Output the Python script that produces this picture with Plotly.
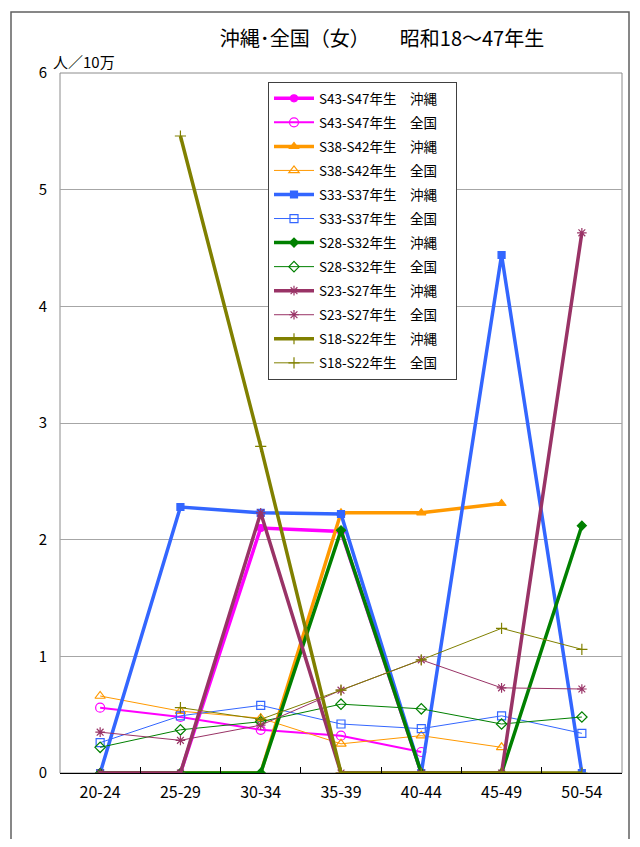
import plotly.graph_objects as go

ages = ["20-24", "25-29", "30-34", "35-39", "40-44", "45-49", "50-54"]

s43_oki = [0, 0, 2.10, 2.07, 0, None, None]
s43_zen = [0.56, 0.48, 0.37, 0.32, 0.18, None, None]
s38_oki = [0, 0, 0, 2.23, 2.23, 2.31, None]
s38_zen = [0.66, 0.53, 0.47, 0.25, 0.32, 0.22, None]
s33_oki = [0, 2.28, 2.23, 2.22, 0, 4.44, 0]
s33_zen = [0.26, 0.49, 0.58, 0.42, 0.38, 0.49, 0.34]
s28_oki = [0, 0, 0, 2.08, 0, 0, 2.12]
s28_zen = [0.22, 0.37, 0.44, 0.59, 0.55, 0.42, 0.48]
s23_oki = [0, 0, 2.23, 0, 0, 0, 4.63]
s23_zen = [0.35, 0.28, 0.41, 0.71, 0.97, 0.73, 0.72]
s18_oki = [None, 5.46, 2.80, 0, 0, 0, 0]
s18_zen = [None, 0.56, 0.46, 0.71, 0.97, 1.24, 1.06]

series = [
    ("S43-S47年生　沖縄", s43_oki, "#FF00FF", 3.5, "circle", 7),
    ("S43-S47年生　全国", s43_zen, "#FF00FF", 2, "circle-open", 9),
    ("S38-S42年生　沖縄", s38_oki, "#FF9900", 3.5, "triangle-up", 8),
    ("S38-S42年生　全国", s38_zen, "#FF9900", 1, "triangle-up-open", 9),
    ("S33-S37年生　沖縄", s33_oki, "#3366FF", 3.5, "square", 7),
    ("S33-S37年生　全国", s33_zen, "#3366FF", 1, "square-open", 8),
    ("S28-S32年生　沖縄", s28_oki, "#008000", 3.5, "diamond", 7),
    ("S28-S32年生　全国", s28_zen, "#008000", 1, "diamond-open", 8),
    ("S23-S27年生　沖縄", s23_oki, "#993366", 3.5, "asterisk-open", 8),
    ("S23-S27年生　全国", s23_zen, "#993366", 1, "asterisk-open", 8),
    ("S18-S22年生　沖縄", s18_oki, "#808000", 3.5, "cross-thin-open", 8),
    ("S18-S22年生　全国", s18_zen, "#808000", 1, "cross-thin-open", 8),
]

FONT = "Noto Sans CJK JP"
OFF = 8  # page body margin
W, H = 640 - OFF - 8, 847 - OFF - 8
PX0, PX1, PY0, PY1 = 60, 622, 73, 773  # plot area in page pixels
L = PX0 - OFF
R = (OFF + W) - PX1
T = PY0 - OFF
B = (OFF + H) - PY1


def px(x):
    return (x - PX0) / (PX1 - PX0)


def py(y):
    return (PY1 - y) / (PY1 - PY0)


fig = go.Figure()
for i, (name, vals, color, lw, sym, size) in enumerate(series):
    fig.add_trace(go.Scatter(
        x=ages, y=vals, name=name + "　", mode="lines+markers",
        line=dict(color=color, width=lw),
        marker=dict(symbol=sym, size=size, color=color,
                    line=dict(color=color, width=1.2)),
        legendgroup=f"g{i}",
        connectgaps=False,
    ))

frame = dict(color="#606060", width=1.5)
fig.update_layout(
    width=W, height=H,
    margin=dict(l=L, r=R, t=T, b=B),
    paper_bgcolor="white", plot_bgcolor="white",
    font=dict(family=FONT, color="black"),
    title=dict(text="沖縄･全国（女）　　昭和18～47年生", x=(382 - OFF) / W, xanchor="center",
               y=1 - (39 - OFF) / H, yanchor="middle", font=dict(size=20, family=FONT)),
    showlegend=True,
    legend=dict(x=px(268), y=py(82), xanchor="left", yanchor="top",
                bgcolor="white", bordercolor="#404040", borderwidth=1,
                font=dict(size=13.5, family=FONT), tracegroupgap=3.5,
                itemwidth=40),
    xaxis=dict(type="category", range=[-0.5, 6.5], showline=True, linecolor="black",
               linewidth=1, ticks="inside", ticklen=6, tickcolor="black",
               tickson="boundaries", showgrid=False, tickfont=dict(size=16, family=FONT),
               ticklabelstandoff=5, fixedrange=True),
    yaxis=dict(range=[0, 6], dtick=1, showgrid=True, gridcolor="#a6a6a6", gridwidth=1,
               showline=False, zeroline=False, ticks="", tickfont=dict(size=15, family=FONT),
               ticklabelstandoff=12, fixedrange=True),
    shapes=[
        dict(type="rect", xref="paper", yref="paper", x0=0, x1=1, y0=0, y1=1,
             line=dict(color="#8c8c8c", width=1), layer="below"),
        dict(type="rect", xref="paper", yref="paper", x0=px(11), x1=px(629),
             y0=py(845), y1=py(12), line=frame, fillcolor="rgba(0,0,0,0)"),
    ],
    annotations=[
        dict(text="人／10万", xref="paper", yref="paper", x=px(51), y=py(62),
             xanchor="left", yanchor="middle", showarrow=False,
             font=dict(size=15, family=FONT)),
    ],
)

fig.write_html("out.html")
